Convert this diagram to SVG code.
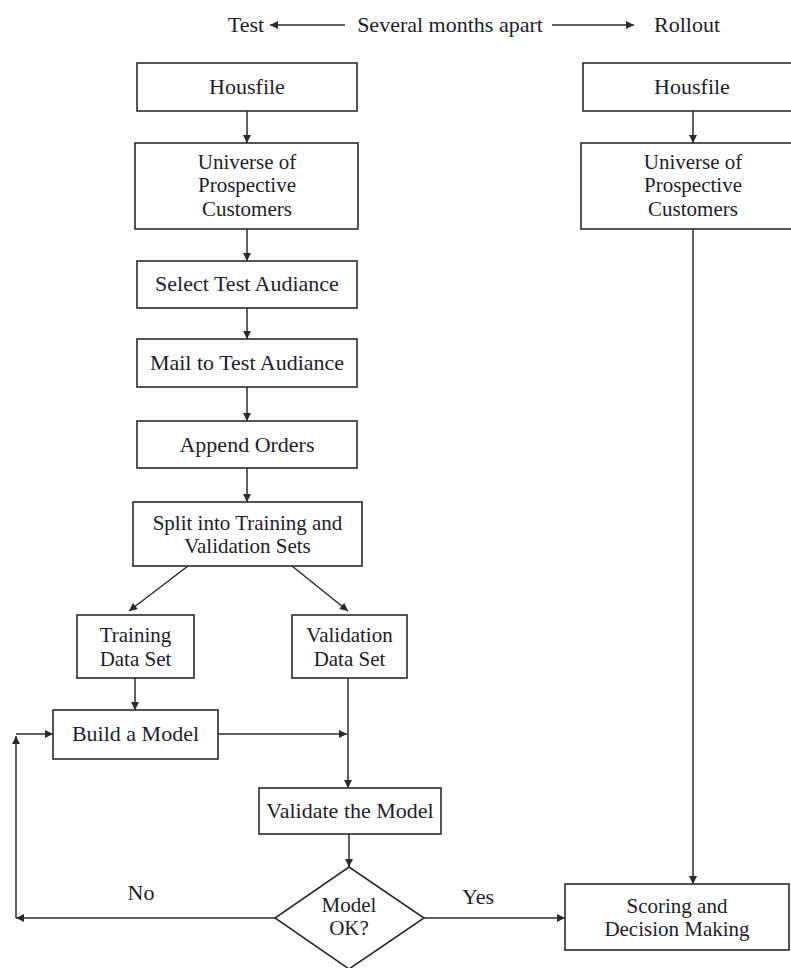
<svg xmlns="http://www.w3.org/2000/svg" width="791" height="968" viewBox="0 0 791 968">
  <style>
    .box { fill: #ffffff; stroke: #2b2b2b; stroke-width: 1.6; }
    .lbl { font-family: "Liberation Serif", "Times New Roman", serif; font-size: 21px; fill: #1d1d2c; text-anchor: middle; }
    .lbl.big { font-size: 22px; }
    .edge { fill: none; stroke: #2b2b2b; stroke-width: 1.5; }
  </style>
  <defs>
    <marker id="arrow" viewBox="0 0 10 10" refX="10" refY="5" markerWidth="9" markerHeight="8" markerUnits="userSpaceOnUse" orient="auto">
      <path d="M0,0 L10,5 L0,10 Z" fill="#2b2b2b"/>
    </marker>
  </defs>
  <rect width="791" height="968" fill="#ffffff"/>

  <!-- timeline header -->
  <g id="header">
    <text class="lbl big" x="246" y="32">Test</text>
    <text class="lbl big" x="450" y="32">Several months apart</text>
    <text class="lbl big" x="687" y="32">Rollout</text>
  </g>

  <!-- test column -->
  <g id="housfile-test">
    <rect class="box" x="137" y="63" width="220" height="48"/>
    <text class="lbl big" x="247" y="94">Housfile</text>
  </g>
  <g id="universe-test">
    <rect class="box" x="135" y="143" width="223" height="86"/>
    <text class="lbl" x="247" y="168.8">Universe of</text>
    <text class="lbl" x="247" y="192.3">Prospective</text>
    <text class="lbl" x="247" y="215.8">Customers</text>
  </g>
  <g id="select-audience">
    <rect class="box" x="137" y="261" width="220" height="47"/>
    <text class="lbl big" x="247" y="291">Select Test Audiance</text>
  </g>
  <g id="mail-audience">
    <rect class="box" x="137" y="339" width="220" height="48"/>
    <text class="lbl big" x="247" y="370">Mail to Test Audiance</text>
  </g>
  <g id="append-orders">
    <rect class="box" x="137" y="421" width="220" height="47"/>
    <text class="lbl big" x="247" y="452">Append Orders</text>
  </g>
  <g id="split-sets">
    <rect class="box" x="133" y="502" width="229" height="64"/>
    <text class="lbl" x="247.5" y="529.5">Split into Training and</text>
    <text class="lbl" x="247.5" y="553">Validation Sets</text>
  </g>
  <g id="training-set">
    <rect class="box" x="77" y="615" width="117" height="63"/>
    <text class="lbl" x="135.5" y="642">Training</text>
    <text class="lbl" x="135.5" y="665.5">Data Set</text>
  </g>
  <g id="validation-set">
    <rect class="box" x="292" y="615" width="115" height="63"/>
    <text class="lbl" x="349.5" y="642">Validation</text>
    <text class="lbl" x="349.5" y="665.5">Data Set</text>
  </g>
  <g id="build-model">
    <rect class="box" x="53" y="710" width="165" height="49"/>
    <text class="lbl big" x="135.5" y="741">Build a Model</text>
  </g>
  <g id="validate-model">
    <rect class="box" x="259" y="788" width="182" height="46"/>
    <text class="lbl big" x="350" y="818">Validate the Model</text>
  </g>
  <g id="model-ok">
    <polygon class="box" points="349,867 424,918 349,969 275,918"/>
    <text class="lbl" x="349" y="911.5">Model</text>
    <text class="lbl" x="349" y="935">OK?</text>
  </g>

  <!-- rollout column -->
  <g id="housfile-rollout">
    <rect class="box" x="583" y="63" width="230" height="48"/>
    <text class="lbl big" x="692" y="94">Housfile</text>
  </g>
  <g id="universe-rollout">
    <rect class="box" x="581" y="143" width="232" height="86"/>
    <text class="lbl" x="693" y="168.8">Universe of</text>
    <text class="lbl" x="693" y="192.3">Prospective</text>
    <text class="lbl" x="693" y="215.8">Customers</text>
  </g>
  <g id="scoring">
    <rect class="box" x="565" y="884" width="224" height="66"/>
    <text class="lbl" x="677" y="912.5">Scoring and</text>
    <text class="lbl" x="677" y="936">Decision Making</text>
  </g>

  <!-- connectors -->
  <g id="connectors">
    <path class="edge" d="M345,25 L270,25" marker-end="url(#arrow)"/>
    <path class="edge" d="M552,25 L634,25" marker-end="url(#arrow)"/>

    <path class="edge" d="M247,111 L247,143" marker-end="url(#arrow)"/>
    <path class="edge" d="M247,229 L247,261" marker-end="url(#arrow)"/>
    <path class="edge" d="M247,308 L247,339" marker-end="url(#arrow)"/>
    <path class="edge" d="M247,387 L247,421" marker-end="url(#arrow)"/>
    <path class="edge" d="M247,468 L247,502" marker-end="url(#arrow)"/>
    <path class="edge" d="M188,566 L129,611" marker-end="url(#arrow)"/>
    <path class="edge" d="M292,566 L348,611" marker-end="url(#arrow)"/>
    <path class="edge" d="M135,678 L135,710" marker-end="url(#arrow)"/>
    <path class="edge" d="M218,734 L347,734" marker-end="url(#arrow)"/>
    <path class="edge" d="M348,678 L348,788" marker-end="url(#arrow)"/>
    <path class="edge" d="M349,834 L349,867" marker-end="url(#arrow)"/>

    <path class="edge" d="M424,918 L565,918" marker-end="url(#arrow)"/>
    <text class="lbl big" x="478" y="904">Yes</text>
    <path class="edge" d="M275,918 L16,918" marker-end="url(#arrow)"/>
    <text class="lbl big" x="141" y="900">No</text>
    <path class="edge" d="M16,918 L16,736" marker-end="url(#arrow)"/>
    <path class="edge" d="M16,734 L53,734" marker-end="url(#arrow)"/>

    <path class="edge" d="M693,111 L693,143" marker-end="url(#arrow)"/>
    <path class="edge" d="M693,229 L693,884" marker-end="url(#arrow)"/>
  </g>
</svg>
